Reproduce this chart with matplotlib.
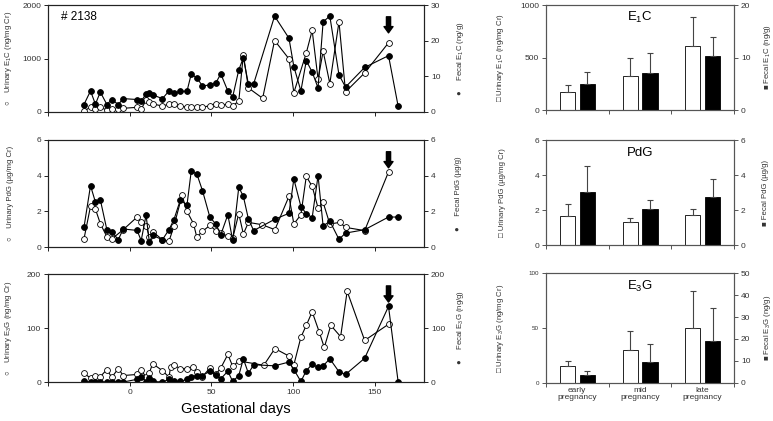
import matplotlib
matplotlib.use('Agg')
from matplotlib import pyplot as plt

plt.rcParams['font.family'] = ['Liberation Sans', 'DejaVu Sans']
plt.rcParams['mathtext.fontset'] = 'custom'
plt.rcParams['mathtext.rm'] = 'Liberation Sans'
plt.rcParams['mathtext.default'] = 'regular'

# ---- daily profiles (gestational day vs concentration) ----
birth_day = 158.3

days_fec = [-28, -24, -21, -18, -14, -11, -7, -4, 4.5, 7, 10, 12, 14, 20, 24, 27, 31, 35, 37.6, 41,
            44.5, 49, 52.6, 55.7, 60, 63, 66.7, 69.5, 72.6, 75.8, 88.6, 97.4, 100.4, 104.7, 108, 111.6,
            115.2, 118.3, 122.4, 128, 132, 143.7, 158.3, 164.2]

# E1C
e1c_uri_days = [-28, -24, -21, -18, -14, -11, -7, -4, 4.5, 7, 10, 12, 14, 20, 24, 27, 31, 35, 37.6, 41,
                44.5, 49, 52.6, 55.7, 60, 63, 66.7, 69.5, 72.6, 81.3, 88.6, 97.4, 100.4, 108, 111.6,
                115.2, 118.3, 122.4, 128, 132, 143.7, 158.3]
e1c_uri = [12, 94, 62, 94, 31, 56, 50, 69, 87, 56, 219, 181, 150, 112, 144, 150, 106, 94, 94, 94,
           87, 119, 156, 131, 144, 119, 200, 1075, 450, 256, 1337, 994, 362, 1106, 1525, 612, 1137,
           531, 1687, 375, 731, 1294]
e1c_fec = [2.1, 5.9, 2.2, 5.6, 2.1, 3.5, 2.1, 3.75, 3.5, 3.0, 5.1, 5.2, 4.8, 3.75, 5.9, 5.2, 5.8, 5.8,
           10.6, 9.6, 7.3, 7.6, 8.1, 10.7, 5.9, 4.3, 11.8, 15.2, 7.8, 7.9, 26.9, 20.7, 12.7, 5.9, 14.4,
           11.2, 6.75, 25.3, 26.9, 10.4, 7.0, 12.5, 15.8, 1.6]

# PdG
pdg_uri_days = [-28, -24, -21, -18, -14, -11, -4, 4.5, 7, 10, 12, 14, 20, 24, 27, 32, 35, 39, 41, 44.5,
                49, 52.6, 55.7, 60, 63, 66.7, 69.5, 72.6, 81, 88.8, 97.4, 100.4, 104.7, 108, 111.6,
                115.2, 118.3, 122.4, 128.5, 132, 143.7, 158.3]
pdg_uri = [0.45, 2.28, 2.13, 1.31, 0.58, 0.45, 0.97, 1.68, 1.38, 1.2, 0.55, 0.86, 0.41, 0.32, 1.16,
           2.9, 2.0, 1.31, 0.56, 0.88, 1.21, 0.92, 0.79, 0.60, 0.50, 1.87, 0.73, 1.38, 1.25, 0.97,
           2.84, 1.29, 1.81, 3.96, 3.40, 2.19, 2.50, 1.29, 1.38, 1.10, 0.92, 4.21]
pdg_fec = [1.10, 3.44, 2.52, 2.65, 0.97, 0.86, 0.41, 1.01, 0.93, 0.36, 1.79, 0.28, 0.65, 0.41, 0.97,
           1.53, 2.65, 2.34, 4.24, 4.11, 3.16, 1.68, 1.29, 0.69, 1.81, 0.37, 3.35, 2.84, 1.57, 0.92,
           1.55, 1.89, 3.81, 2.27, 1.87, 1.65, 4.0, 1.17, 1.45, 0.43, 0.78, 0.97, 1.68, 1.68]

# E3G
e3g_uri_days = [-28, -24, -21, -18, -14, -11, -7, -4, 4.5, 7, 10, 12, 14, 20, 24, 25, 27, 31, 35, 38.6,
                41, 44.5, 49, 52.6, 55.7, 60, 63, 66.7, 82, 88.8, 97.4, 100.4, 104.7, 108, 111.6, 116,
                119, 123, 129, 133, 143.7, 158.3]
e3g_uri = [16, 7.4, 12, 10, 23, 8.6, 25, 12, 14, 22, 9, 17, 34, 21, 9, 28, 31, 25, 25, 28, 18.5, 10,
           26, 14, 26, 51, 29, 39, 31, 62, 48, 32, 83, 105, 130, 92, 64, 105, 84, 168, 77, 107]
e3g_fec = [1, 0, 0, 0, 0, 0, 0, 0, 5, 10, 0, 7, 1, 0, 5, 1, 1, 5, 10, 12, 12, 20, 13, 6, 20, 1, 12, 43,
           16, 32, 30, 37, 23, 1, 21, 33, 27, 30, 43, 19, 14, 44, 140, 0]

# ---- stage means (bars) ----
stages = ['early\npregnancy', 'mid\npregnancy', 'late\npregnancy']
e1c_uri_mean = [168, 321, 606]
e1c_uri_sd = [73, 177, 277]
e1c_fec_mean = [4.95, 7.05, 10.2]
e1c_fec_sd = [2.35, 3.75, 3.8]
pdg_uri_mean = [1.65, 1.32, 1.70]
pdg_uri_sd = [0.67, 0.25, 0.33]
pdg_fec_mean = [3.05, 2.07, 2.74]
pdg_fec_sd = [1.45, 0.5, 1.01]
e3g_uri_mean = [15.3, 29.8, 49.7]
e3g_uri_sd = [4.9, 17.7, 34.0]
e3g_fec_mean = [3.6, 9.7, 19.1]
e3g_fec_sd = [1.7, 8.0, 15.0]

fig = plt.figure(figsize=(7.73, 4.21), dpi=100)
TC = '#333333'


def style_axis(ax, spine_col, size):
    for s in ax.spines.values():
        s.set_color(spine_col)
        s.set_linewidth(0.8)
    ax.tick_params(direction='out', length=3, width=0.7, color=spine_col, labelsize=size,
                   labelcolor=TC, pad=2)


def line_panel(rect, d_u, v_u, d_f, v_f, ylim_l, yt_l, ylim_r, yt_r, lab_l, lab_r, bottom):
    ax = fig.add_axes(rect)
    ax2 = ax.twinx()
    ax.plot(d_u, v_u, '-o', color='black', mfc='white', mec='black', ms=4.2, lw=0.8, mew=0.6,
            zorder=3)
    ax2.plot(d_f, v_f, '-o', color='black', mfc='black', mec='black', ms=4.2, lw=0.8, mew=0.6)
    ax.set_xlim(-50, 180)
    ax.set_xticks([-50, 0, 50, 100, 150])
    if bottom:
        ax.set_xticklabels(['', '0', '50', '100', '150'])
    else:
        ax.set_xticklabels([])
    ax.set_ylim(*ylim_l)
    ax.set_yticks(yt_l)
    ax2.set_ylim(*ylim_r)
    ax2.set_yticks(yt_r)
    for a in (ax, ax2):
        style_axis(a, '#222222', 6)
    ax.set_ylabel(lab_l, fontsize=5.6, color=TC)
    ax.yaxis.set_label_coords(-0.09, 0.5)
    ax2.set_ylabel(lab_r, fontsize=5.6, color=TC)
    ax2.yaxis.set_label_coords(1.083, 0.5)
    ax.annotate('', xy=(birth_day, 0.74), xycoords=('data', 'axes fraction'),
                xytext=(birth_day, 0.89), textcoords=('data', 'axes fraction'),
                arrowprops=dict(arrowstyle='simple,head_width=0.65,head_length=0.45,tail_width=0.3',
                                color='black', shrinkA=0, shrinkB=0))
    return ax


def bar_panel(rect, mu, su, mf, sf, ylim_l, yt_l, ylim_r, yt_r, lab_l, lab_r, title, bottom,
              lsize=6):
    ax = fig.add_axes(rect)
    ax2 = ax.twinx()
    x = [i + 0.5 for i in range(len(stages))]
    ax.bar([p - 0.155 for p in x], mu, width=0.24, color='white', edgecolor='black', lw=0.6,
           yerr=[[0] * len(su), su], error_kw=dict(ecolor='#444444', elinewidth=0.8, capsize=2,
                                                   capthick=0.8))
    ax2.bar([p + 0.16 for p in x], mf, width=0.24, color='black', edgecolor='black', lw=0.6,
            yerr=[[0] * len(sf), sf], error_kw=dict(ecolor='#444444', elinewidth=0.8, capsize=2,
                                                    capthick=0.8))
    ax.set_xlim(0, 3)
    ax.set_xticks([0, 1, 2, 3])
    ax.set_xticklabels([])
    if bottom:
        ax.set_xticks(x, minor=True)
        ax.set_xticklabels(stages, minor=True, fontsize=6, color=TC, linespacing=0.95)
        ax.tick_params(axis='x', which='minor', length=0, pad=3)
    ax.set_ylim(*ylim_l)
    ax.set_yticks(yt_l)
    ax2.set_ylim(*ylim_r)
    ax2.set_yticks(yt_r)
    style_axis(ax, '#555555', lsize)
    style_axis(ax2, '#555555', 6)
    ax.tick_params(axis='x', which='minor', length=0, labelsize=6)
    ax.set_ylabel(lab_l, fontsize=5.6, color=TC)
    ax.yaxis.set_label_coords(-0.215, 0.5)
    ax2.set_ylabel(lab_r, fontsize=5.6, color=TC)
    ax2.yaxis.set_label_coords(1.15, 0.5)
    ax.text(0.5, 0.88, title, transform=ax.transAxes, ha='center', va='center', fontsize=9.5)
    return ax


ax1 = line_panel([0.0621, 0.734, 0.4864, 0.254], e1c_uri_days, e1c_uri, days_fec, e1c_fec,
                 (0, 2000), [0, 1000, 2000], (0, 30), [0, 10, 20, 30],
                 '\u25cb    Urinary E$_1$C (ng/mg Cr)', '\u25cf     Fecal E$_1$C (ng/g)', False)
ax1.text(0.035, 0.89, '# 2138', transform=ax1.transAxes, fontsize=8.5, va='center')
line_panel([0.0621, 0.4133, 0.4864, 0.2542], pdg_uri_days, pdg_uri, days_fec, pdg_fec,
           (0, 6), [0, 2, 4, 6], (0, 6), [0, 2, 4, 6],
           '\u25cb    Urinary PdG (\u00b5g/mg Cr)', '\u25cf     Fecal PdG (\u00b5g/g)', False)
line_panel([0.0621, 0.0926, 0.4864, 0.2565], e3g_uri_days, e3g_uri, days_fec, e3g_fec,
           (0, 200), [0, 100, 200], (0, 200), [0, 100, 200],
           '\u25cb    Urinary E$_3$G (ng/mg Cr)', '\u25cf     Fecal E$_3$G (ng/g)', True)
fig.text(0.305, 0.028, 'Gestational days', ha='center', va='center', fontsize=10.5)

bar_panel([0.7063, 0.7387, 0.2432, 0.2494], e1c_uri_mean, e1c_uri_sd, e1c_fec_mean, e1c_fec_sd,
          (0, 1000), [0, 500, 1000], (0, 20), [0, 10, 20],
          '\u25a1 Urinary E$_1$C (ng/mg Cr)', '\u25a0 Fecal E$_1$C (ng/g)', 'E$_1$C', False)
bar_panel([0.7063, 0.418, 0.2432, 0.2494], pdg_uri_mean, pdg_uri_sd, pdg_fec_mean, pdg_fec_sd,
          (0, 6), [0, 2, 4, 6], (0, 6), [0, 2, 4, 6],
          '\u25a1 Urinary PdG (\u00b5g/mg Cr)', '\u25a0 Fecal PdG (\u00b5g/g)', 'PdG', False)
bar_panel([0.7063, 0.0903, 0.2432, 0.2612], e3g_uri_mean, e3g_uri_sd, e3g_fec_mean, e3g_fec_sd,
          (0, 100), [0, 50, 100], (0, 50), [0, 10, 20, 30, 40, 50],
          '\u25a1 Urinary E$_3$G (ng/mg Cr)', '\u25a0 Fecal E$_3$G (ng/g)', 'E$_3$G', True, lsize=4.5)

fig.savefig('out.png', dpi=100)
